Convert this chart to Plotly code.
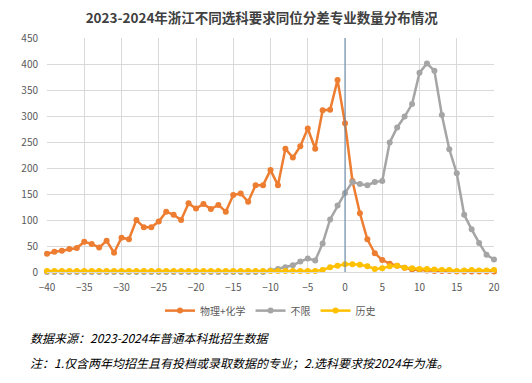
import plotly.graph_objects as go

x_vals = list(range(-40, 21))

phys_chem = [35, 39, 41, 44, 46, 58, 54, 47, 60, 37, 66, 63, 100, 86, 86, 97, 116, 110, 100,
             132, 122, 131, 121, 129, 116, 148, 151, 135, 167, 167, 196, 167, 237, 220, 242, 276,
             237, 311, 312, 369, 286, 175, 113, 63, 36, 23, 16, 12, 8, 5, 4, 3, 2, 2, 2, 1, 1, 1, 1, 1, 1]

unlimited = [0] * 30 + [3, 6, 9, 13, 20, 26, 22, 55, 101, 128, 152, 173, 169, 167, 173, 175,
             249, 278, 299, 323, 383, 401, 387, 302, 236, 190, 110, 82, 56, 33, 24]

history = [2] * 36 + [2, 4, 9, 12, 15, 15, 14, 11, 6, 7, 11, 12, 8, 7, 6, 6, 5, 4, 4, 2, 3, 4, 3, 3, 4]

series_names = ["物理+化学", "不限", "历史"]
series_colors = ["#ED7D31", "#A5A5A5", "#FFC000"]
ref_x = 0

title_text = "2023-2024年浙江不同选科要求同位分差专业数量分布情况"
note1 = "数据来源：2023-2024年普通本科批招生数据"
note2 = "注：1.仅含两年均招生且有投档或录取数据的专业；2.选科要求按2024年为准。"

fig = go.Figure()
for name, vals, col in zip(series_names, [phys_chem, unlimited, history], series_colors):
    fig.add_trace(go.Scatter(
        x=x_vals, y=vals, name=name, mode="lines+markers",
        line=dict(color=col, width=2.5),
        marker=dict(color=col, size=6),
        cliponaxis=False,
    ))

fig.add_shape(type="line", xref="x", yref="y", x0=ref_x, x1=ref_x, y0=0, y1=450,
              line=dict(color="#5E84A8", width=1))

font_cjk = "Noto Sans CJK SC, Microsoft YaHei, sans-serif"

fig.update_layout(
    width=532, height=383,
    margin=dict(l=39, r=46, t=30, b=119, autoexpand=False),
    paper_bgcolor="white", plot_bgcolor="white",
    font=dict(family=font_cjk, color="#595959", size=10),
    title=dict(text=title_text, x=0.477, xanchor="center",
               y=1 - 10 / 383, yanchor="middle",
               font=dict(size=13.5, color="#404040", family=font_cjk, weight="bold")),
    xaxis=dict(range=[-40, 20], tickmode="linear", tick0=-40, dtick=5, automargin=False,
               showgrid=True, gridcolor="#D9D9D9", gridwidth=1, zeroline=False,
               showline=True, linecolor="#D9D9D9",
               ticks="outside", ticklen=6, tickcolor="rgba(0,0,0,0)",
               tickfont=dict(size=10, color="#595959")),
    yaxis=dict(range=[0, 450], tickmode="linear", tick0=0, dtick=50, automargin=False,
               showgrid=True, gridcolor="#D9D9D9", gridwidth=1, zeroline=False,
               showline=False,
               ticks="outside", ticklen=6, tickcolor="rgba(0,0,0,0)",
               tickfont=dict(size=10, color="#595959")),
    legend=dict(orientation="h", x=0.5, xanchor="center", y=-0.165, yanchor="middle",
                font=dict(size=10, color="#595959"), itemwidth=30),
    showlegend=True,
)

fig.add_annotation(text=note1, xref="paper", yref="paper", x=-0.043, y=-0.282,
                   xanchor="left", yanchor="middle", showarrow=False,
                   font=dict(size=12, color="#000000", family=font_cjk, style="italic"))
fig.add_annotation(text=note2, xref="paper", yref="paper", x=-0.043, y=-0.385,
                   xanchor="left", yanchor="middle", showarrow=False,
                   font=dict(size=12, color="#000000", family=font_cjk, style="italic"))

fig.write_html("out.html")
